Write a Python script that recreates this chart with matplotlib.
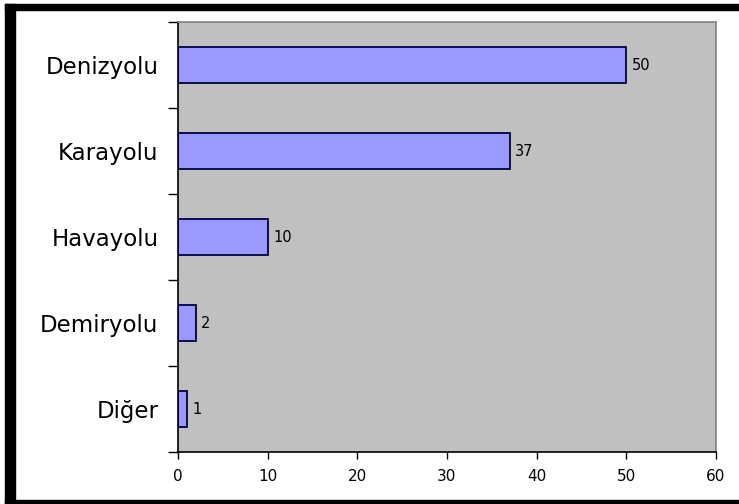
import matplotlib
matplotlib.use("Agg")
import matplotlib.pyplot as plt
from matplotlib.patches import Rectangle

categories = ["Denizyolu", "Karayolu", "Havayolu", "Demiryolu", "Diğer"]
values = [50, 37, 10, 2, 1]
xticks = [0, 10, 20, 30, 40, 50, 60]

W, H = 739, 504
fig = plt.figure(figsize=(W / 100, H / 100), dpi=100)
fig.patch.set_facecolor("white")

# plot area in pixels: x 178..716, y 22..452
ax = fig.add_axes([178 / W, (H - 452) / H, 538 / W, 430 / H])
ax.set_facecolor("#c0c0c0")

# top category first
ypos = list(range(len(categories)))[::-1]
ax.barh(ypos, values, height=0.41, color="#9999ff", edgecolor="#000040", linewidth=1.3)

for y, v in zip(ypos, values):
    ax.text(v + 0.6, y, str(v), va="center", ha="left", fontsize=10.5, color="black")

ax.set_xlim(0, 60)
ax.set_ylim(-0.5, len(categories) - 0.5)
ax.set_xticks(xticks)
ax.set_xticklabels([str(t) for t in xticks], fontsize=11)

# category labels in the middle, ticks on the boundaries
ax.set_yticks(ypos)
ax.set_yticklabels(categories, fontsize=16.5)
ax.set_yticks([i - 0.5 for i in range(len(categories) + 1)], minor=True)
ax.tick_params(axis="y", which="major", length=0, pad=14)
ax.tick_params(axis="y", which="minor", length=7, width=1, direction="out")
ax.tick_params(axis="x", length=5, width=1, direction="out", pad=7)

ax.spines["left"].set_color("black")
ax.spines["bottom"].set_color("black")
ax.spines["top"].set_color("#808080")
ax.spines["right"].set_color("#808080")
for s in ax.spines.values():
    s.set_linewidth(1.2)

# black frame around the picture (pixel coords, y from top)
def frame(x0, y0, x1, y1):
    fig.patches.append(Rectangle((x0 / W, 1 - y1 / H), (x1 - x0) / W, (y1 - y0) / H,
                                 transform=fig.transFigure, color="black", zorder=5))

frame(5, 4, W, 10)
frame(5, 4, 15, H)
frame(5, 500, W, H)

fig.savefig("out.png", dpi=100)
